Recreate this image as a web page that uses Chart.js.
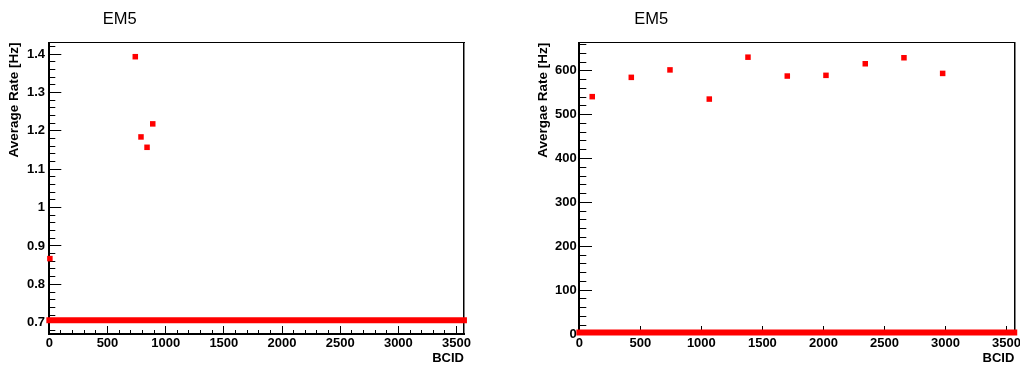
<!DOCTYPE html>
<html>
<head>
<meta charset="utf-8">
<script src="https://cdn.jsdelivr.net/npm/chart.js@4.4.1/dist/chart.umd.min.js"></script>
<style>
html, body { margin: 0; padding: 0; background: #fff; overflow: hidden; }
#wrap { position: relative; width: 1020px; height: 367px; }
canvas { position: absolute; top: 0; }
</style>
</head>
<body>
<div id="wrap">
  <canvas id="c1" width="510" height="367" style="left:0;width:510px;height:367px"></canvas>
  <canvas id="c2" width="510" height="367" style="left:510px;width:510px;height:367px"></canvas>
</div>
<script>
// ---------------- data ----------------
const bcidMin = 0;
const bcidMax = 3564;
const xTitle = 'BCID';
const xTickValues = [0, 500, 1000, 1500, 2000, 2500, 3000, 3500];
const xTickLabels = ['0', '500', '1000', '1500', '2000', '2500', '3000', '3500'];

// left panel
const leftTitle = 'EM5';
const leftYTitle = 'Average Rate [Hz]';
const leftYRange = [0.6706, 1.430];
const leftYTickValues = [0.7, 0.8, 0.9, 1.0, 1.1, 1.2, 1.3, 1.4];
const leftYTickLabels = ['0.7', '0.8', '0.9', '1', '1.1', '1.2', '1.3', '1.4'];
const leftBaseBcid = [0.5, 3563.5];
const leftBaseRate = [0.7062, 0.7062];
const leftPeakBcid = [5, 739, 788, 840, 889];
const leftPeakRate = [0.867, 1.393, 1.184, 1.157, 1.218];

// right panel
const rightTitle = 'EM5';
const rightYTitle = 'Avergae Rate [Hz]';
const rightYRange = [0, 664];
const rightYTickValues = [0, 100, 200, 300, 400, 500, 600];
const rightYTickLabels = ['0', '100', '200', '300', '400', '500', '600'];
const rightBaseBcid = [0.5, 3563.5];
const rightBaseRate = [3.4, 3.4];
const rightPeakBcid = [106, 426, 743, 1065, 1382, 1704, 2021, 2343, 2660, 2977];
const rightPeakRate = [541, 585, 602, 535.5, 631, 588, 589.6, 616, 629.7, 594];

// ---------------- rendering ----------------
const FONT = "'Liberation Sans', Arial, Helvetica, sans-serif";
const RED = '#ff0000';
Chart.defaults.font.family = FONT;

const titlePlugin = {
  id: 'padTitle',
  afterDraw(chart, args, opts) {
    const ctx = chart.ctx;
    ctx.save();
    ctx.font = '16.5px ' + FONT;
    ctx.fillStyle = '#000';
    ctx.textAlign = 'center';
    ctx.textBaseline = 'middle';
    ctx.fillText(opts.text, opts.x, opts.y);
    ctx.restore();
  }
};

function tickGen(step) {
  return function (scale) {
    const out = [];
    const k0 = Math.ceil(scale.min / step - 1e-7);
    for (let k = k0; k * step <= scale.max + 1e-7; k++) {
      out.push({ value: Math.round(k * step * 1e6) / 1e6 });
    }
    scale.ticks = out;
  };
}
function labeler(values, labels) {
  return function (v) {
    const i = values.findIndex(t => Math.abs(t - v) < 1e-6);
    return i < 0 ? '' : labels[i];
  };
}

function panel(canvasId, p) {
  const tickFont = { family: FONT, size: 13, weight: 'bold' };
  const titleFont = { family: FONT, size: 13.5, weight: 'bold' };
  const frame = (pos, axisRange) => ({
    type: 'linear', position: pos, weight: 0, z: 1,
    min: axisRange[0], max: axisRange[1], bounds: 'data',
    afterFit: s => { if (pos === 'top') s.height = 0; else s.width = 0; s.paddingLeft = 0; s.paddingRight = 0; s.paddingTop = 0; s.paddingBottom = 0; },
    grid: { display: true, drawOnChartArea: false, drawTicks: false },
    border: { display: true, color: '#000', width: pos === 'top' ? 1 : 1.5 },
    ticks: { display: false }
  });
  return new Chart(document.getElementById(canvasId), {
    type: 'scatter',
    data: {
      datasets: [
        {
          data: p.baseBcid.map((x, i) => ({ x: x, y: p.baseRate[i] })),
          showLine: true, borderColor: RED, borderWidth: 6, borderCapStyle: 'square',
          pointRadius: 0, pointHoverRadius: 0, clip: false
        },
        {
          data: p.peakBcid.map((x, i) => ({ x: x, y: p.peakRate[i] })),
          showLine: false, pointStyle: 'rect', pointRadius: 3.9, pointHoverRadius: 3.9,
          pointBorderWidth: 0, borderWidth: 0, backgroundColor: RED, pointBackgroundColor: RED,
          borderColor: RED, clip: false
        }
      ]
    },
    options: {
      responsive: false, animation: false, devicePixelRatio: 1,
      events: [],
      layout: { padding: p.padding },
      plugins: {
        legend: { display: false }, tooltip: { enabled: false },
        padTitle: { text: p.title, x: p.titleX, y: p.titleY }
      },
      scales: {
        x: {
          type: 'linear', position: 'bottom', weight: 1, z: 1,
          min: bcidMin, max: bcidMax, bounds: 'data',
          afterBuildTicks: tickGen(100),
          afterFit: s => { s.height = 33; s.paddingLeft = 0; s.paddingRight = 0; },
          grid: { drawOnChartArea: false, drawTicks: true, tickLength: -4, tickColor: '#000', tickWidth: 1 },
          border: { display: true, color: '#000', width: 2 },
          ticks: { autoSkip: false, maxRotation: 0, minRotation: 0, padding: 5.5, font: tickFont, color: '#000',
                   callback: labeler(xTickValues, xTickLabels) },
          title: { display: true, text: xTitle, align: 'end', color: '#000',
                   font: { family: FONT, size: 13, weight: 'bold' }, padding: { top: 0, bottom: 1 } }
        },
        xMaj: {
          type: 'linear', position: 'bottom', weight: 0, z: 1,
          min: bcidMin, max: bcidMax, bounds: 'data',
          afterBuildTicks: tickGen(500),
          afterFit: s => { s.height = 0; s.paddingLeft = 0; s.paddingRight = 0; },
          grid: { drawOnChartArea: false, drawTicks: true, tickLength: -8, tickColor: '#000', tickWidth: 1 },
          border: { display: false },
          ticks: { display: false, autoSkip: false }
        },
        xTop: frame('top', [bcidMin, bcidMax]),
        y: {
          type: 'linear', position: 'left', weight: 1, z: 1,
          min: p.yRange[0], max: p.yRange[1], bounds: 'data',
          afterBuildTicks: tickGen(p.yMinor),
          afterFit: s => { s.width = p.yWidth; s.paddingTop = 0; s.paddingBottom = 0; },
          grid: { drawOnChartArea: false, drawTicks: true, tickLength: -p.yMinorLen, tickColor: '#000', tickWidth: 1 },
          border: { display: true, color: '#000', width: 2 },
          ticks: { autoSkip: false, padding: p.yLabelPad, font: tickFont, color: '#000',
                   callback: labeler(p.yTickValues, p.yTickLabels) },
          title: { display: true, text: p.yTitle, align: 'end', color: '#000', font: titleFont,
                   padding: { top: p.yTitlePad, bottom: 0 } }
        },
        yMaj: {
          type: 'linear', position: 'left', weight: 0, z: 1,
          min: p.yRange[0], max: p.yRange[1], bounds: 'data',
          afterBuildTicks: tickGen(p.yMajor),
          afterFit: s => { s.width = 0; s.paddingTop = 0; s.paddingBottom = 0; },
          grid: { drawOnChartArea: false, drawTicks: true, tickLength: -p.yMajorLen, tickColor: '#000', tickWidth: 1 },
          border: { display: false },
          ticks: { display: false, autoSkip: false }
        },
        yRight: frame('right', p.yRange)
      }
    },
    plugins: [titlePlugin]
  });
}

panel('c1', {
  title: leftTitle, titleX: 119.7, titleY: 19.5,
  padding: { left: 0, top: 42.5, right: 46, bottom: 0 },
  yWidth: 49.3, yRange: leftYRange, yMinor: 0.02, yMajor: 0.1,
  yMinorLen: 6, yMajorLen: 12, yLabelPad: 10.3, yTitlePad: 6,
  yTitle: leftYTitle, yTickValues: leftYTickValues, yTickLabels: leftYTickLabels,
  baseBcid: leftBaseBcid, baseRate: leftBaseRate, peakBcid: leftPeakBcid, peakRate: leftPeakRate
});

panel('c2', {
  title: rightTitle, titleX: 141.3, titleY: 19.5,
  padding: { left: 0, top: 42.7, right: 5.7, bottom: 0 },
  yWidth: 69.3, yRange: rightYRange, yMinor: 20, yMajor: 100,
  yMinorLen: 7, yMajorLen: 12.7, yLabelPad: 9.6, yTitlePad: 25.3,
  yTitle: rightYTitle, yTickValues: rightYTickValues, yTickLabels: rightYTickLabels,
  baseBcid: rightBaseBcid, baseRate: rightBaseRate, peakBcid: rightPeakBcid, peakRate: rightPeakRate
});
</script>
</body>
</html>
